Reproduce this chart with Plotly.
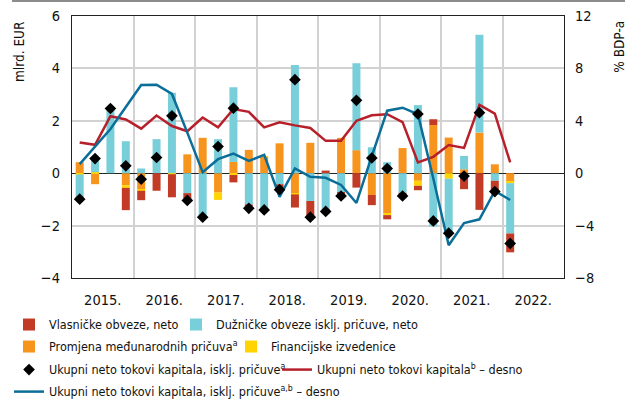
import plotly.graph_objects as go

# Quarterly capital flows, 2015 Q1 - 2022 Q1
quarters = [
    "2015Q1", "2015Q2", "2015Q3", "2015Q4",
    "2016Q1", "2016Q2", "2016Q3", "2016Q4",
    "2017Q1", "2017Q2", "2017Q3", "2017Q4",
    "2018Q1", "2018Q2", "2018Q3", "2018Q4",
    "2019Q1", "2019Q2", "2019Q3", "2019Q4",
    "2020Q1", "2020Q2", "2020Q3", "2020Q4",
    "2021Q1", "2021Q2", "2021Q3", "2021Q4",
    "2022Q1",
]

# bln EUR (left axis)
equity = [-0.08, 0, 0, -0.85, -0.36, -0.67, -0.88, -0.25, 0, 0, -0.28, -0.08, 0, -0.13,
          -0.50, -0.60, 0.10, -0.06, -0.55, -0.39, -0.16, -0.07, -0.17, 0.22, 0, -0.61,
          -1.40, -0.45, -0.72]
debt = [-0.85, 0.50, 2.46, 1.22, 0.18, 1.30, 3.07, -0.76, -1.70, 1.30, 2.85, -1.19, -1.45,
        -0.42, 4.13, -1.06, -1.55, -0.74, 3.32, 0.99, 0.42, -0.78, 2.60, -2.03, -2.08, 0.51,
        3.73, -0.29, -1.92]
reserves = [0.42, -0.42, 0, -0.46, -0.62, 0, 0, 0.72, 1.35, -0.74, 0.43, 0.89, 0.62, 1.14,
            -0.77, 1.16, 0, 1.35, 0.88, -0.83, -1.53, 0.96, -0.29, 1.84, 1.36, 0.15, 1.55,
            0.34, -0.33]
derivatives = [-0.05, 0.04, 0, -0.10, -0.05, 0, -0.04, 0, 0, -0.28, -0.07, 0, 0.03, 0,
               -0.04, 0, 0, 0, 0, 0, -0.07, 0, -0.19, 0, -0.21, 0, 0, 0, -0.05]
total_excl_reserves = [-0.99, 0.56, 2.47, 0.28, -0.23, 0.60, 2.19, -1.04, -1.68, 1.02, 2.48,
                       -1.34, -1.40, -0.63, 3.57, -1.68, -1.46, -0.87, 2.78, 0.58, 0.18,
                       -0.87, 2.26, -1.82, -2.29, -0.11, 2.31, -0.70, -2.68]

# % of GDP (right axis)
total_gdp = [2.35, 2.17, 4.35, 4.10, 3.40, 4.40, 3.60, 3.20, 4.25, 3.50, 4.90, 4.68, 3.50,
             3.88, 3.65, 3.45, 2.47, 2.47, 4.00, 4.42, 4.50, 3.90, 0.82, 1.25, 2.15, 1.93,
             5.22, 4.55, 0.82]
total_excl_reserves_gdp = [0.69, 2.00, 3.37, 5.05, 6.73, 6.76, 6.05, 3.10, 0.08, 1.07, 1.50,
                           0.94, 1.40, -1.80, 0.36, -0.28, -0.35, -0.90, -2.27, 1.30, 4.77,
                           5.00, 4.50, -0.40, -5.50, -3.80, -3.52, -1.35, -2.05]

years = [2015, 2016, 2017, 2018, 2019, 2020, 2021, 2022]
year_labels = [f"{y}." for y in years]

# quarter midpoints on a continuous year scale
x = [int(q[:4]) + (int(q[-1]) - 0.5) / 4 for q in quarters]

FONT = "Liberation Sans Narrow, Arial Narrow, DejaVu Sans Condensed, sans-serif"
RED = "#C23B26"
CYAN = "#78CFDA"
ORANGE = "#F7941E"
YELLOW = "#FFD400"
LINE_RED = "#B7202B"
LINE_BLUE = "#0B6E98"
BAR_W = 0.13

fig = go.Figure()

# stacking order from the zero line outwards: reserves, derivatives, debt, equity
fig.add_trace(go.Bar(x=x, y=reserves, width=BAR_W, marker_color=ORANGE, marker_line_width=0,
                     name="Promjena međunarodnih pričuva<sup>a</sup>",
                     legend="legend2", legendrank=1, legendwidth=177))
fig.add_trace(go.Bar(x=x, y=derivatives, width=BAR_W, marker_color=YELLOW, marker_line_width=0,
                     name="Financijske izvedenice", legend="legend2", legendrank=2))
fig.add_trace(go.Bar(x=x, y=debt, width=BAR_W, marker_color=CYAN, marker_line_width=0,
                     name="Dužničke obveze isklj. pričuve, neto", legend="legend", legendrank=2))
fig.add_trace(go.Bar(x=x, y=equity, width=BAR_W, marker_color=RED, marker_line_width=0,
                     name="Vlasničke obveze, neto", legend="legend", legendrank=1,
                     legendwidth=122))

fig.add_trace(go.Scatter(x=x, y=total_gdp, yaxis="y2", mode="lines",
                         line=dict(color=LINE_RED, width=2.5),
                         name="Ukupni neto tokovi kapitala<sup>b</sup> – desno",
                         legend="legend3", legendrank=2))
fig.add_trace(go.Scatter(x=x, y=total_excl_reserves_gdp, yaxis="y2", mode="lines",
                         line=dict(color=LINE_BLUE, width=2.5),
                         name="Ukupni neto tokovi kapitala, isklj. pričuve<sup>a,b</sup> – desno",
                         legend="legend4"))
fig.add_trace(go.Scatter(x=x, y=total_excl_reserves, yaxis="y3", mode="markers",
                         marker=dict(symbol="diamond", size=9, color="black"),
                         name="Ukupni neto tokovi kapitala, isklj. pričuve<sup>a</sup>",
                         legend="legend3", legendrank=1, legendwidth=223))

GRID = "#D2D2D2"
legend_common = dict(orientation="h", xanchor="left", yanchor="middle", x=-0.128,
                     bgcolor="rgba(0,0,0,0)", borderwidth=0, tracegroupgap=0,
                     font=dict(family=FONT, size=12.5, color="#111"), itemwidth=30)

fig.update_layout(
    width=638, height=403,
    margin=dict(l=72, r=74, t=16, b=125, autoexpand=False),
    paper_bgcolor="white", plot_bgcolor="white",
    barmode="relative",
    font=dict(family=FONT, size=14.5, color="#111"),
    xaxis=dict(
        range=[2015, 2023],
        tickmode="array", tickvals=[y + 0.5 for y in years], ticktext=year_labels,
        ticks="", showgrid=False, ticklabelstandoff=8,
        minor=dict(tickmode="linear", tick0=2015, dtick=1, showgrid=True,
                   gridcolor=GRID, gridwidth=2, ticks=""),
        showline=True, linecolor="#222", linewidth=1.2, mirror=True,
        zeroline=False,
    ),
    yaxis=dict(
        range=[-4, 6], tickmode="linear", tick0=-4, dtick=2,
        showgrid=True, gridcolor=GRID, gridwidth=2,
        zeroline=True, zerolinecolor="#222", zerolinewidth=1.2,
        showline=True, linecolor="#222", linewidth=1.2, mirror=True,
        ticks="", ticklabelstandoff=8,
    ),
    yaxis2=dict(
        range=[-8, 12], tickmode="linear", tick0=-8, dtick=4,
        overlaying="y", side="right", showgrid=False, zeroline=False,
        ticks="", ticklabelstandoff=10,
    ),
    yaxis3=dict(range=[-4, 6], overlaying="y", visible=False),
    legend=dict(legend_common, y=-0.179),
    legend2=dict(legend_common, y=-0.263),
    legend3=dict(legend_common, y=-0.351),
    legend4=dict(legend_common, y=-0.435),
    showlegend=True,
)

fig.add_annotation(text="mlrd. EUR", textangle=-90, xref="paper", yref="paper",
                   x=-0.108, y=0.99, xanchor="center", yanchor="top", showarrow=False,
                   font=dict(family=FONT, size=13.5, color="#111"))
fig.add_annotation(text="% BDP-a", textangle=-90, xref="paper", yref="paper",
                   x=1.112, y=0.99, xanchor="center", yanchor="top", showarrow=False,
                   font=dict(family=FONT, size=13.5, color="#111"))

# thin rule across the top of the figure
fig.add_shape(type="line", xref="paper", yref="paper", x0=-0.122, x1=1.124,
              y0=1.057, y1=1.057, line=dict(color="#666", width=1.5))

fig.write_html("out.html")
